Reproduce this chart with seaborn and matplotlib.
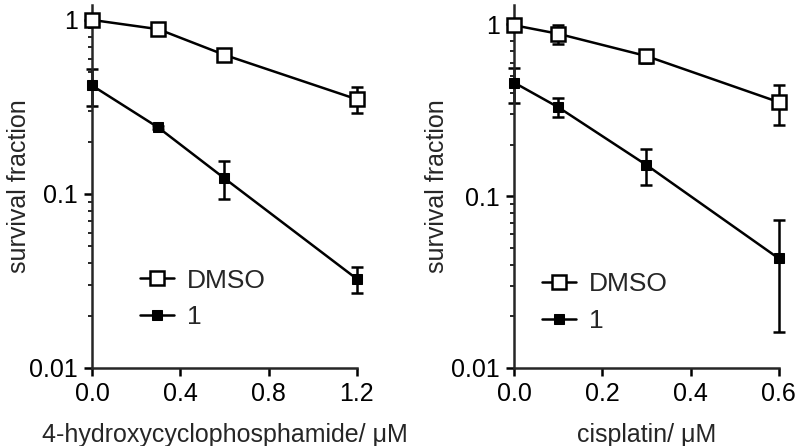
import numpy as np
import pandas as pd
import matplotlib
matplotlib.use("Agg")
import matplotlib.pyplot as plt
import matplotlib.ticker as mticker
import seaborn as sns

# left panel: 4-hydroxycyclophosphamide
cp_dose = [0.0, 0.3, 0.6, 1.2]
cp_dmso = [1.0, 0.885, 0.63, 0.35]
cp_dmso_lo = [1.0, 0.885, 0.63, 0.29]
cp_dmso_hi = [1.0, 0.885, 0.63, 0.41]
cp_cmpd = [0.42, 0.241, 0.123, 0.0325]
cp_cmpd_lo = [0.32, 0.236, 0.094, 0.027]
cp_cmpd_hi = [0.52, 0.246, 0.155, 0.038]

# right panel: cisplatin
cis_dose = [0.0, 0.1, 0.3, 0.6]
cis_dmso = [0.99, 0.883, 0.655, 0.353]
cis_dmso_lo = [0.99, 0.77, 0.60, 0.26]
cis_dmso_hi = [0.99, 0.99, 0.70, 0.442]
cis_cmpd = [0.459, 0.33, 0.152, 0.0434]
cis_cmpd_lo = [0.35, 0.29, 0.116, 0.0161]
cis_cmpd_hi = [0.56, 0.371, 0.188, 0.0724]

sns.set_style("ticks")
plt.rcParams['font.family'] = ['Liberation Sans', 'DejaVu Sans']
plt.rcParams['axes.linewidth'] = 1.8

fig = plt.figure(figsize=(8, 4.46), dpi=100)
ax1 = fig.add_axes([0.115, 0.175, 0.331, 0.814])
ax2 = fig.add_axes([0.6425, 0.175, 0.331, 0.814])


def panel(ax, dose, dmso, dlo, dhi, cmpd, clo, chi, xticks, xlabel, ytop, leg_anchor, ypad):
    df = pd.DataFrame({"dose": dose, "dmso": dmso, "cmpd": cmpd})
    for y, lo, hi in [(dmso, dlo, dhi), (cmpd, clo, chi)]:
        eb = ax.errorbar(dose, y, yerr=[np.array(y) - np.array(lo), np.array(hi) - np.array(y)],
                         fmt='none', ecolor='black', elinewidth=1.8, capsize=4.5, capthick=1.8,
                         zorder=2)
        for art in eb.lines[1] + eb.lines[2]:
            art.set_clip_on(False)
    sns.lineplot(data=df, x="dose", y="dmso", ax=ax, color='black', lw=1.8, marker='s',
                 markersize=10, markerfacecolor='white', markeredgecolor='black',
                 markeredgewidth=1.8, label='DMSO', zorder=3, clip_on=False)
    sns.lineplot(data=df, x="dose", y="cmpd", ax=ax, color='black', lw=1.8, marker='s',
                 markersize=7, markerfacecolor='black', markeredgecolor='black',
                 label='1', zorder=3, clip_on=False)
    ax.set_yscale('log')
    ax.set_ylim(0.01, ytop)
    ax.set_xlim(0, xticks[-1])
    ax.set_xticks(xticks)
    ax.xaxis.set_major_formatter(mticker.FormatStrFormatter('%.1f'))
    ax.set_yticks([0.01, 0.1, 1])
    ax.yaxis.set_major_formatter(mticker.FuncFormatter(lambda v, p: '%g' % v))
    ax.yaxis.set_minor_locator(mticker.LogLocator(base=10, subs=np.arange(2, 10)))
    ax.yaxis.set_minor_formatter(mticker.NullFormatter())
    ax.tick_params(which='major', length=6, width=1.8, labelsize=18, colors='black', pad=4)
    ax.tick_params(which='minor', length=3, width=1.4)
    ax.set_xlabel(xlabel, fontsize=18, labelpad=12)
    ax.set_ylabel('survival fraction', fontsize=18, labelpad=ypad)
    sns.despine(ax=ax)
    ax.legend(loc='center left', bbox_to_anchor=leg_anchor, frameon=False, fontsize=19,
              handlelength=1.3, handletextpad=0.5, labelspacing=0.48, borderaxespad=0)


panel(ax1, cp_dose, cp_dmso, cp_dmso_lo, cp_dmso_hi, cp_cmpd, cp_cmpd_lo, cp_cmpd_hi,
      [0.0, 0.4, 0.8, 1.2], '4-hydroxycyclophosphamide/ \u03bcM', 1.22, (0.14, 0.19), -1)
panel(ax2, cis_dose, cis_dmso, cis_dmso_lo, cis_dmso_hi, cis_cmpd, cis_cmpd_lo, cis_cmpd_hi,
      [0.0, 0.2, 0.4, 0.6], 'cisplatin/ \u03bcM', 1.3, (0.065, 0.18), 2)

fig.savefig('out.png', dpi=100)
